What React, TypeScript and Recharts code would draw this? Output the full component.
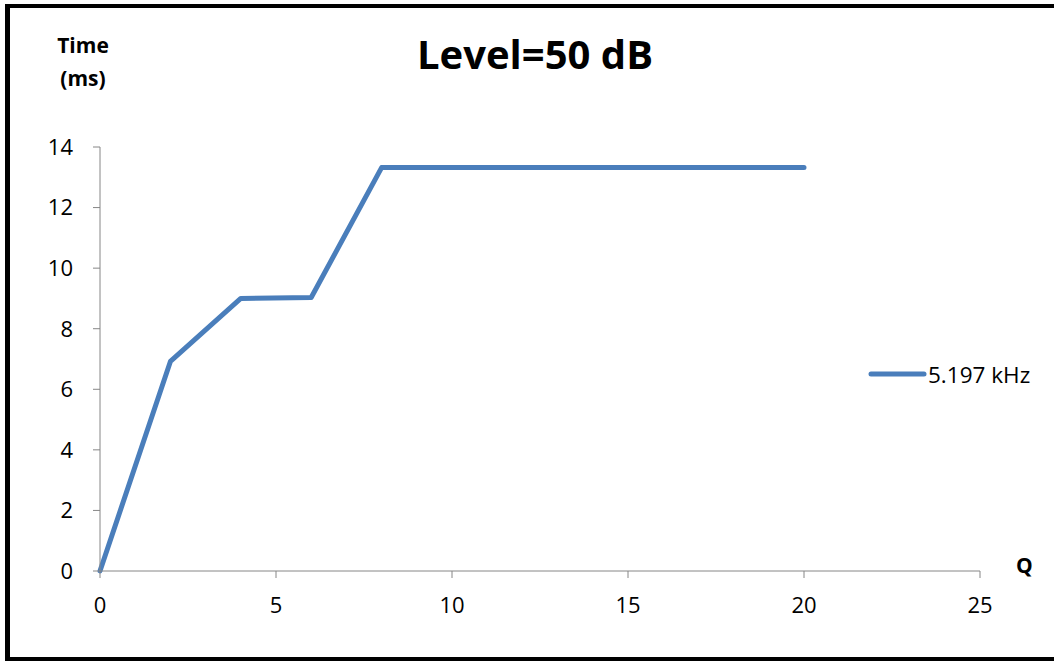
import { LineChart, Line, XAxis, YAxis, Legend } from "recharts";

// Q values and response time (ms)
const qValues = [0, 2, 4, 6, 8, 20];
const timeMs = [0, 6.92, 9.0, 9.03, 13.32, 13.32];
const seriesName = "5.197 kHz";

const xTicks = [0, 5, 10, 15, 20, 25];
const yTicks = [0, 2, 4, 6, 8, 10, 12, 14];

const LINE_COLOR = "#4a7ebb";
const AXIS_COLOR = "#868686";
const FONT = "'Open Sans', sans-serif";

const data = qValues.map((q, i) => ({ q, time: timeMs[i] }));

function LegendBox() {
  return (
    <div style={{ display: "flex", alignItems: "center", height: 30, fontFamily: FONT, fontSize: 22.5, color: "#000" }}>
      <svg width={60} height={10}>
        <line x1={3} y1={5} x2={56} y2={5} stroke={LINE_COLOR} strokeWidth={5} strokeLinecap="round" />
      </svg>
      <span>{seriesName}</span>
    </div>
  );
}

export default function App() {
  const tick = { fill: "#000", fontSize: 22, fontFamily: FONT };
  return (
    <div
      style={{
        position: "absolute",
        left: 0,
        top: 0,
        width: 1054,
        height: 661,
        overflow: "hidden",
        background: "#fff",
      }}
    >
      <div
        style={{
          position: "absolute",
          left: 5,
          top: 4,
          width: 1100,
          height: 657,
          boxSizing: "border-box",
          borderLeft: "5px solid #000",
          borderTop: "4px solid #000",
          borderBottom: "4px solid #000",
        }}
      />
      <LineChart
        width={1054}
        height={661}
        data={data}
        // bottom margin leaves room for the legend box height (30px) that recharts adds
        margin={{ top: 147, right: 74, bottom: 20, left: 40 }}
        style={{ position: "absolute", left: 0, top: 0 }}
      >
        <XAxis
          dataKey="q"
          type="number"
          domain={[0, 25]}
          ticks={xTicks}
          height={40}
          stroke={AXIS_COLOR}
          tickSize={7}
          tickMargin={19}
          tick={tick}
        />
        <YAxis
          type="number"
          domain={[0, 14]}
          ticks={yTicks}
          width={60}
          stroke={AXIS_COLOR}
          tickSize={7}
          tickMargin={20}
          tick={tick}
        />
        <Legend content={() => <LegendBox />} wrapperStyle={{ left: 868, top: 359, width: "auto" }} />
        <Line
          type="linear"
          dataKey="time"
          name={seriesName}
          stroke={LINE_COLOR}
          strokeWidth={5}
          strokeLinejoin="round"
          strokeLinecap="round"
          dot={false}
          activeDot={false}
          isAnimationActive={false}
        />
      </LineChart>
      <div
        style={{
          position: "absolute",
          left: 0,
          width: 1070,
          top: 29,
          textAlign: "center",
          fontFamily: FONT,
          fontWeight: 700,
          fontSize: 40,
          lineHeight: "50px",
        }}
      >
        Level=50 dB
      </div>
      <div
        style={{
          position: "absolute",
          left: 40,
          width: 86,
          top: 29,
          textAlign: "center",
          fontFamily: FONT,
          fontWeight: 700,
          fontSize: 21,
          lineHeight: "33px",
        }}
      >
        Time
        <br />
        (ms)
      </div>
      <div
        style={{
          position: "absolute",
          left: 1016,
          top: 550,
          fontFamily: FONT,
          fontWeight: 700,
          fontSize: 21,
          lineHeight: "30px",
        }}
      >
        Q
      </div>
    </div>
  );
}
